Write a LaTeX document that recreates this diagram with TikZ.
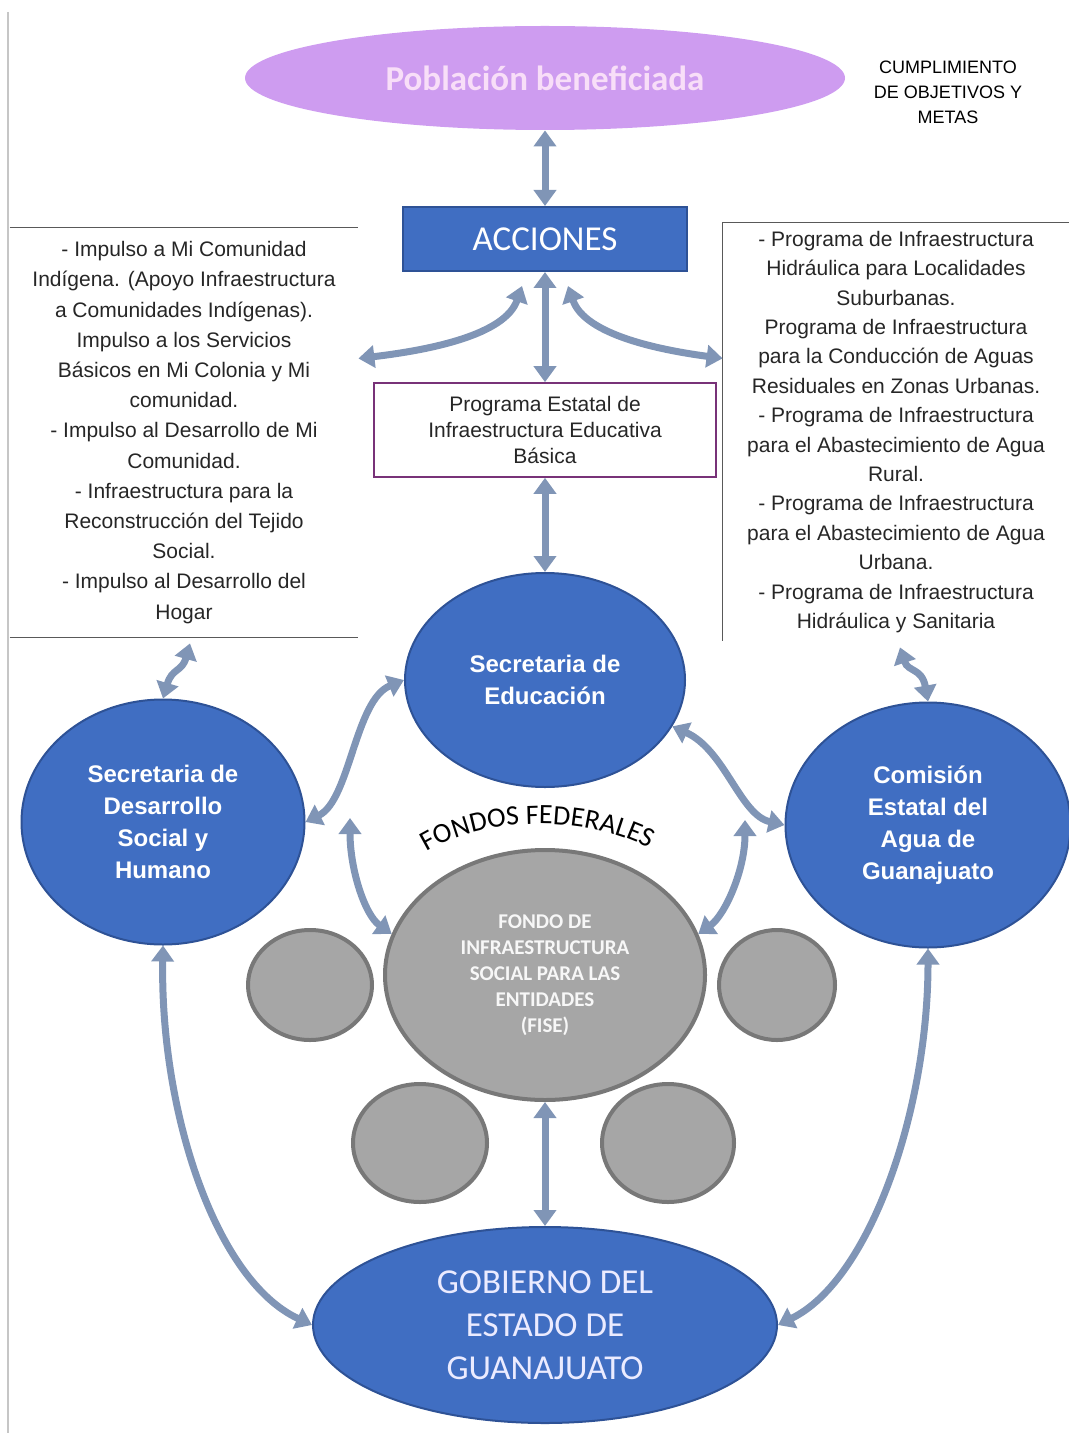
\documentclass[tikz,border=0pt]{standalone}
\usepackage{fontspec}
\setmainfont{Liberation Sans}
\newfontfamily\carlito{Carlito}
\usetikzlibrary{shapes.geometric,arrows.meta,calc,decorations.text}

\definecolor{azul}{RGB}{64,110,194}
\definecolor{azulborde}{RGB}{46,82,150}
\definecolor{flecha}{RGB}{128,149,182}
\definecolor{violeta}{RGB}{206,156,240}
\definecolor{rosa}{RGB}{248,222,248}
\definecolor{gris}{RGB}{166,166,166}
\definecolor{grisborde}{RGB}{120,120,120}
\definecolor{morado}{RGB}{120,50,120}

\tikzset{
  dblarrow/.style={draw=flecha, line width=3.5pt, {Triangle[width=11pt,length=8pt]}-{Triangle[width=11pt,length=8pt]}},
  bluenode/.style={ellipse, fill=azul, draw=azulborde, line width=1pt, text=white, align=center, inner sep=0pt, font=\bfseries\fontsize{12}{16}\selectfont},
  graynode/.style={ellipse, fill=gris, draw=grisborde, line width=2pt, inner sep=0pt},
  textbox/.style={rectangle, inner sep=0pt, align=center, text=black!85, font=\fontsize{10.5}{14.7}\selectfont},
}

\begin{document}
\begin{tikzpicture}[x=0.5pt,y=0.5pt,yscale=-1]
  \useasboundingbox (0,0) rectangle (1069,1433);
  \draw[gray!45, line width=0.6pt] (8,12) -- (8,1433);

  % arriba
  \node[ellipse, fill=violeta, inner sep=0pt, minimum width=300pt, minimum height=52pt, text=rosa, font=\carlito\bfseries\fontsize{17.5}{20}\selectfont] (pob) at (545,78) {Población beneficiada};
  \node[align=center, font=\fontsize{9}{12.5}\selectfont] (metas) at (948,92) {CUMPLIMIENTO\\DE OBJETIVOS Y\\METAS};
  \node[rectangle, fill=azul, draw=azulborde, line width=1pt, minimum width=142pt, minimum height=32pt, text=white, font=\carlito\fontsize{17.5}{20}\selectfont] (acc) at (545,239) {ACCIONES};

  % cuadros de programas
  \node[textbox, minimum width=174pt, minimum height=204.5pt, font=\fontsize{10.5}{15.1}\selectfont] (izq) at (184,432.5) {- Impulso a Mi Comunidad\\Indígena. (Apoyo Infraestructura\\a Comunidades Indígenas).\\Impulso a los Servicios\\Básicos en Mi Colonia y Mi\\comunidad.\\- Impulso al Desarrollo de Mi\\Comunidad.\\- Infraestructura para la\\Reconstrucción del Tejido\\Social.\\- Impulso al Desarrollo del\\Hogar};
  \node[textbox, minimum width=173pt, minimum height=209pt] (der) at (896,432) {- Programa de Infraestructura\\Hidráulica para Localidades\\Suburbanas.\\Programa de Infraestructura\\para la Conducción de Aguas\\Residuales en Zonas Urbanas.\\- Programa de Infraestructura\\para el Abastecimiento de Agua\\Rural.\\- Programa de Infraestructura\\para el Abastecimiento de Agua\\Urbana.\\- Programa de Infraestructura\\Hidráulica y Sanitaria};
  \node[textbox, draw=morado, line width=0.8pt, minimum width=171pt, minimum height=47pt, font=\fontsize{10.5}{13}\selectfont] (prog) at (545,430) {Programa Estatal de\\Infraestructura Educativa\\Básica};
  \draw[line width=0.8pt, gray!70!black] (izq.north west) -- (izq.north east) (izq.south west) -- (izq.south east);
  \draw[line width=0.8pt, gray!70!black] (der.north east) -- (der.north west) -- (der.south west);

  % dependencias
  \node[bluenode, minimum width=140pt, minimum height=107pt] (se) at (545,680) {Secretaria de\\Educación};
  \node[bluenode, minimum width=141.5pt, minimum height=122.5pt] (sdsh) at (163,822) {Secretaria de\\Desarrollo\\Social y\\Humano};
  \node[bluenode, minimum width=142.5pt, minimum height=122.5pt] (ceag) at (928,825) {Comisión\\Estatal del\\Agua de\\Guanajuato};

  % fondos
  \path[decorate, decoration={text along path, text align=center, text={|\carlito\fontsize{14}{14}\selectfont|FONDOS FEDERALES}}] (412,862) .. controls (475,812) and (600,812) .. (664,858);
  \node[graynode, minimum width=160pt, minimum height=125pt, text=white!94!gray, align=center, font=\carlito\bfseries\fontsize{10.5}{13}\selectfont] (fise) at (545,975) {FONDO DE\\INFRAESTRUCTURA\\SOCIAL PARA LAS\\ENTIDADES\\(FISE)};
  \node[graynode, minimum width=62pt, minimum height=55pt] (g1) at (310,985) {};
  \node[graynode, minimum width=58pt, minimum height=55pt] (g2) at (777,985) {};
  \node[graynode, minimum width=67pt, minimum height=59pt] (g3) at (420,1143) {};
  \node[graynode, minimum width=66pt, minimum height=59pt] (g4) at (668,1143) {};

  \node[ellipse, fill=azul, draw=azulborde, line width=1pt, inner sep=0pt, minimum width=232pt, minimum height=98pt, text=blue!8!white, align=center, font=\carlito\fontsize{17.5}{21.5}\selectfont] (gob) at (545,1325) {GOBIERNO DEL\\ESTADO DE\\GUANAJUATO};

  % flechas
  \draw[dblarrow] (pob.south) -- (acc.north);
  \draw[dblarrow] (acc.south) -- (prog.north);
  \draw[dblarrow] ($(acc.south)+(-23,14)$) .. controls (505,335) and (430,350) .. (izq.23);
  \draw[dblarrow] ($(acc.south)+(23,14)$) .. controls (585,335) and (660,350) .. (der.157);
  \draw[dblarrow] (prog.south) -- (se.north);
  \draw[dblarrow] ($(izq.south)+(6,6)$) .. controls (182,672) and (172,668) .. (sdsh.north);
  \draw[dblarrow] ($(der.south)+(4,6)$) .. controls (908,672) and (922,668) .. (ceag.north);
  \draw[dblarrow] (se.west) .. controls (355,700) and (350,800) .. (sdsh.east);
  \draw[dblarrow] (se.-20) .. controls (725,750) and (740,815) .. (ceag.west);
  \coordinate (fl) at (350,818);
  \coordinate (fr) at (745,820);
  \draw[dblarrow] (fl) .. controls (350,870) and (365,915) .. (fise.165);
  \draw[dblarrow] (fr) .. controls (745,870) and (725,915) .. (fise.15);
  \draw[dblarrow] (fise.south) -- (gob.north);
  \draw[dblarrow] (sdsh.south) .. controls (160,1110) and (215,1280) .. (gob.west);
  \draw[dblarrow] (ceag.south) .. controls (928,1110) and (870,1280) .. (gob.east);
\end{tikzpicture}
\end{document}
